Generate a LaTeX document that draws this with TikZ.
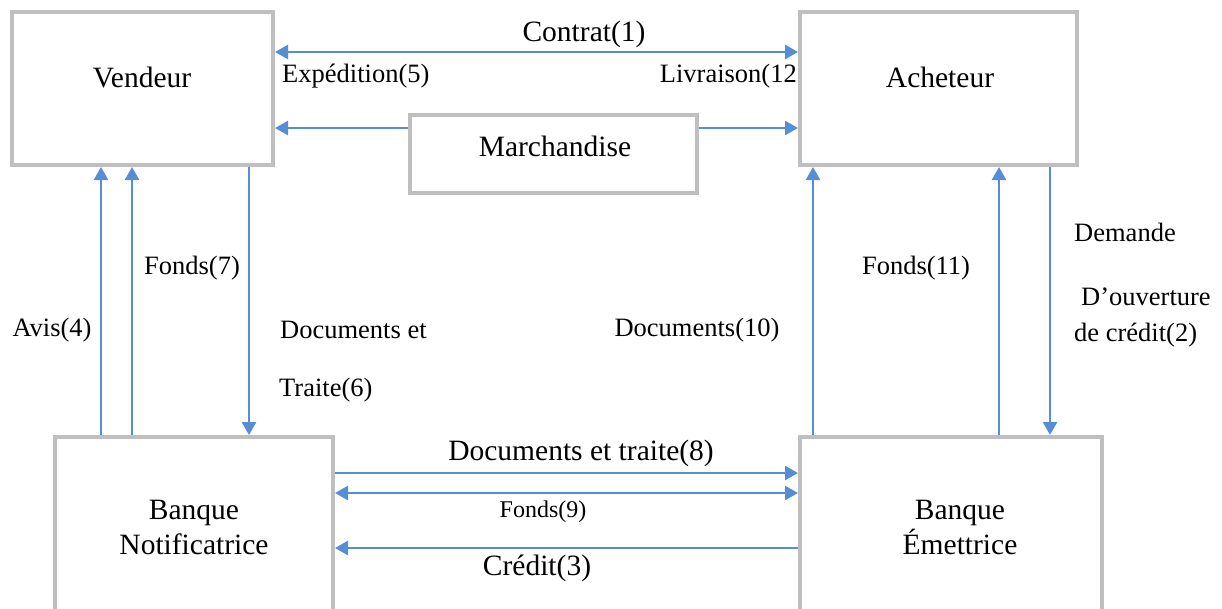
\documentclass[tikz,border=0pt]{standalone}
\usepackage{fontspec}
\setmainfont{Liberation Serif}
\usetikzlibrary{arrows.meta}
\definecolor{boxgray}{RGB}{191,191,191}
\definecolor{arrblue}{RGB}{85,142,213}
\tikzset{
  box/.style={draw=boxgray, line width=4pt, inner sep=0pt},
  arr/.style={draw=arrblue, line width=2.5pt, -{Triangle[length=13pt,width=14pt]}},
  darr/.style={draw=arrblue, line width=2.5pt, {Triangle[length=13pt,width=14pt]}-{Triangle[length=13pt,width=14pt]}},
  txt/.style={inner sep=0pt, font=\fontsize{26.5}{32}\selectfont},
  btxt/.style={inner sep=0pt, font=\fontsize{29.5}{35}\selectfont},
  stxt/.style={inner sep=0pt, font=\fontsize{24}{29}\selectfont},
}
\begin{document}
\begin{tikzpicture}[x=1pt,y=-1pt]
\useasboundingbox (0,0) rectangle (1222,608);
\clip (0,0) rectangle (1222,608);
% boxes
\node[box, minimum width=261pt, minimum height=153pt] (vend) at (142.5,88.5) {};
\node[box, minimum width=277pt, minimum height=153pt] (ach) at (938.5,88.5) {};
\node[box, minimum width=287pt, minimum height=78pt] (mar) at (553.5,154) {};
\node[box, minimum width=278pt, minimum height=203pt] (bn) at (194,538.5) {};
\node[box, minimum width=302pt, minimum height=203pt] (be) at (951,538.5) {};
% box texts
\node[btxt] (tvend) at (142,77) {Vendeur};
\node[btxt] (tach) at (940,77) {Acheteur};
\node[btxt] (tmar) at (555,146) {Marchandise};
\node[btxt, align=center] (tbn) at (194,527) {Banque\\Notificatrice};
\node[btxt, align=center] (tbe) at (960,527) {Banque\\Émettrice};
% top arrows
\draw[darr] (vend.east |- 0,52) -- (ach.west |- 0,52);
\node[btxt] (lcontrat) at (584,34) {Contrat(1)};
\node[txt, anchor=west] (lexp) at (282,76) {Expédition(5)};
\node[txt, anchor=east] (lliv) at (797,76) {Livraison(12};
\draw[arr] (mar.west |- 0,128) -- (vend.east |- 0,128);
\draw[arr] (mar.east |- 0,128) -- (ach.west |- 0,128);
% left verticals
\draw[arr] (bn.north -| 101,0) -- (vend.south -| 101,0);
\draw[arr] (bn.north -| 132,0) -- (vend.south -| 132,0);
\draw[arr] (vend.south -| 249,0) -- (bn.north -| 249,0);
\node[txt] (lavis) at (52,330) {Avis(4)};
\node[txt] (lf7) at (192,268) {Fonds(7)};
\node[txt, anchor=west] (ld6a) at (280,330) {Documents et};
\node[txt, anchor=west] (ld6b) at (279,390) {Traite(6)};
% right verticals
\draw[arr] (be.north -| 813,0) -- (ach.south -| 813,0);
\draw[arr] (be.north -| 999,0) -- (ach.south -| 999,0);
\draw[arr] (ach.south -| 1050,0) -- (be.north -| 1050,0);
\node[txt] (ld10) at (697,330) {Documents(10)};
\node[txt] (lf11) at (916,268) {Fonds(11)};
\node[txt, anchor=west] (ldem1) at (1074,232) {Demande};
\node[txt, anchor=west] (ldem2) at (1081,297) {D’ouverture};
\node[txt, anchor=west] (ldem3) at (1074,335) {de crédit(2)};
% bottom arrows
\draw[arr] (bn.east |- 0,473) -- (be.west |- 0,473);
\draw[darr] (bn.east |- 0,493) -- (be.west |- 0,493);
\draw[arr] (be.west |- 0,548) -- (bn.east |- 0,548);
\node[btxt] (ld8) at (581,453) {Documents et traite(8)};
\node[stxt] (lf9) at (543,512) {Fonds(9)};
\node[btxt] (lc3) at (537,568) {Crédit(3)};
\end{tikzpicture}
\end{document}
